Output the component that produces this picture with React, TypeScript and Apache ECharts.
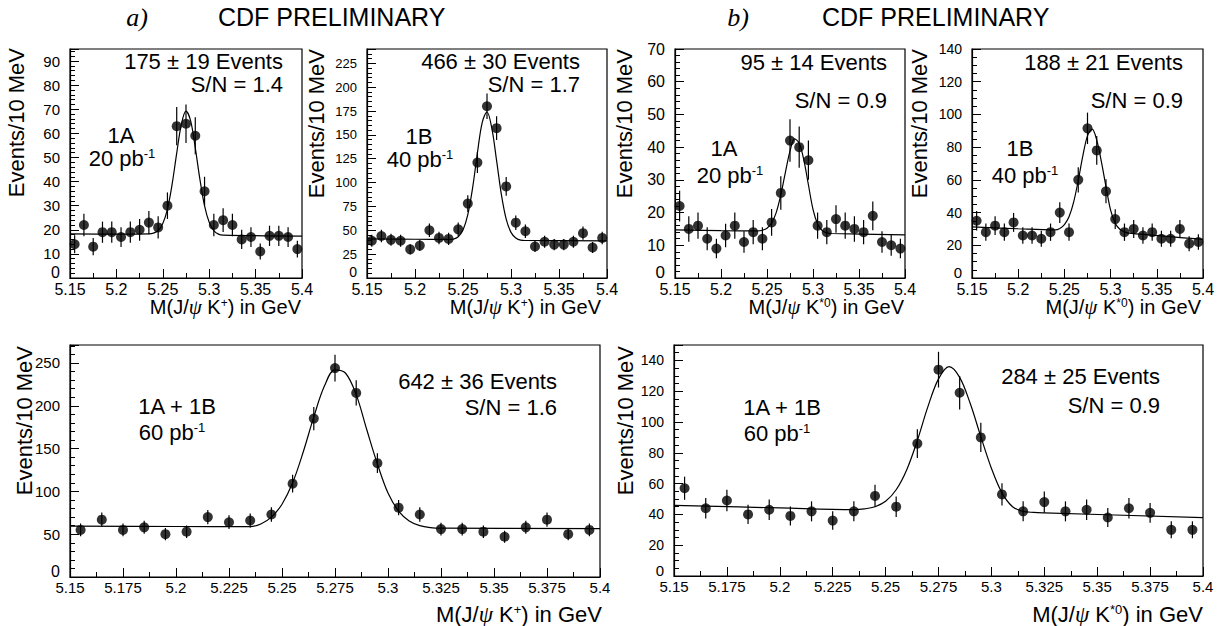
import React, { useEffect, useRef } from "react";
import * as echarts from "echarts";

const FONT = "'Liberation Sans', Arial, Helvetica, sans-serif";

// bin centres (GeV), 10 MeV bins
const binCenters = [
  5.155, 5.165, 5.175, 5.185, 5.195, 5.205, 5.215, 5.225, 5.235, 5.245, 5.255, 5.265, 5.275,
  5.285, 5.295, 5.305, 5.315, 5.325, 5.335, 5.345, 5.355, 5.365, 5.375, 5.385, 5.395,
];

// a) J/psi K+ , run 1A
const kp1AValues = [14, 22, 13, 19, 19, 17, 19, 20, 23, 21, 30, 63, 64, 59, 36, 22, 24, 22, 16, 17, 11, 17.5, 17.5, 17, 12];
const kp1AErrors = [3.7, 4.7, 3.6, 4.4, 4.4, 4.1, 4.4, 4.5, 4.8, 4.6, 5.5, 7.9, 8, 7.7, 6, 4.7, 4.9, 4.7, 4, 4.1, 3.3, 4.2, 4.2, 4.1, 3.5];
const kp1AFit = [
  [5.15, 18.3], [5.2, 18.2], [5.235, 18.3], [5.24, 18.6], [5.245, 19.7], [5.25, 22.6], [5.255, 28.6],
  [5.26, 38.8], [5.265, 51.8], [5.27, 63.7], [5.275, 69.2], [5.28, 65.2], [5.285, 54], [5.29, 40.9],
  [5.295, 29.9], [5.3, 23.1], [5.305, 19.7], [5.31, 18.2], [5.315, 17.8], [5.4, 17.4],
];

// a) J/psi K+ , run 1B
const kp1BValues = [39, 44, 40, 39, 30, 34, 50, 42, 41, 51, 78, 121, 180, 157, 96, 58, 49, 33, 38, 35, 35, 38, 47, 32, 42];
const kp1BErrors = [6.2, 6.6, 6.3, 6.2, 5.5, 5.8, 7.1, 6.5, 6.4, 7.1, 8.8, 11, 13.4, 12.5, 9.8, 7.6, 7, 5.7, 6.2, 5.9, 5.9, 6.2, 6.9, 5.7, 6.5];
const kp1BFit = [
  [5.15, 41], [5.2, 40.6], [5.235, 40.4], [5.24, 40.8], [5.245, 43.2], [5.25, 50.2], [5.255, 66.3],
  [5.26, 94.4], [5.265, 131], [5.27, 162.9], [5.275, 174], [5.28, 157], [5.285, 123], [5.29, 87.3],
  [5.295, 61.6], [5.3, 47.8], [5.305, 41.9], [5.31, 39.6], [5.315, 39.3], [5.4, 39],
];

// b) J/psi K*0 , run 1A
const ks1AValues = [22, 15, 16, 12, 9, 13, 16, 11, 14, 12, 17, 26, 42, 40, 36, 16, 14, 18, 16, 15, 14, 19, 11, 10, 9];
const ks1AErrors = [4.7, 3.9, 4, 3.5, 3, 3.6, 4, 3.3, 3.7, 3.5, 4.1, 5.1, 6.5, 6.3, 6, 4, 3.7, 4.2, 4, 3.9, 3.7, 4.4, 3.3, 3.2, 3];
const ks1AFit = [
  [5.15, 14.7], [5.2, 14.5], [5.24, 14.4], [5.245, 14.6], [5.25, 15.2], [5.255, 16.8], [5.26, 20],
  [5.265, 25.4], [5.27, 32.3], [5.275, 38.8], [5.28, 42.5], [5.285, 41.2], [5.29, 36.1],
  [5.295, 28.5], [5.3, 21], [5.305, 16.5], [5.31, 14.5], [5.315, 13.8], [5.32, 13.6], [5.4, 13.2],
];

// b) J/psi K*0 , run 1B
const ks1BValues = [35, 28, 32, 28, 34, 26, 26, 24, 28, 40, 28, 60, 91.5, 78, 53, 36, 28, 30, 26, 28, 24, 24, 30, 21, 22];
const ks1BErrors = [5.9, 5.3, 5.7, 5.3, 5.8, 5.1, 5.1, 4.9, 5.3, 6.3, 5.3, 7.7, 9.6, 8.8, 7.3, 6, 5.3, 5.5, 5.1, 5.3, 4.9, 4.9, 5.5, 4.6, 4.7];
const ks1BFit = [
  [5.15, 31.3], [5.2, 30.1], [5.24, 29.4], [5.245, 30.3], [5.25, 32.6], [5.255, 37.4], [5.26, 46.4],
  [5.265, 59.7], [5.27, 74.8], [5.275, 86.9], [5.28, 91], [5.285, 84.3], [5.29, 71.1], [5.295, 55.9],
  [5.3, 41.5], [5.305, 33.5], [5.31, 29.8], [5.315, 28.2], [5.32, 27.4], [5.4, 23.6],
];

// a) J/psi K+ , 1A + 1B
const kpAllValues = [55, 67, 55, 58, 50, 53, 70, 64, 66, 73, 109, 185, 244, 215, 133, 81, 73, 56, 56, 53, 47, 58, 67, 50, 55];
const kpAllErrors = [7.4, 8.2, 7.4, 7.6, 7.1, 7.3, 8.4, 8, 8.1, 8.5, 10.4, 13.6, 15.6, 14.7, 11.5, 9, 8.5, 7.5, 7.5, 7.3, 6.9, 7.6, 8.2, 7.1, 7.4];
const kpAllFit = [
  [5.15, 59.4], [5.2, 59], [5.235, 58.8], [5.24, 62], [5.245, 70], [5.25, 85], [5.255, 110],
  [5.26, 146], [5.265, 187], [5.27, 223], [5.275, 242], [5.28, 238], [5.285, 213], [5.29, 172],
  [5.295, 132], [5.3, 98], [5.305, 77], [5.31, 65.5], [5.315, 60], [5.32, 57.7], [5.325, 57],
  [5.4, 56.6],
];

// b) J/psi K*0 , 1A + 1B
const ksAllValues = [57, 44, 49, 40, 43, 39, 42, 36, 42, 52, 45, 86, 134, 119, 90, 53, 42, 48, 42, 43, 38, 44, 41, 30, 30];
const ksAllErrors = [7.5, 6.6, 7, 6.3, 6.6, 6.2, 6.5, 6, 6.5, 7.2, 6.7, 9.3, 11.6, 10.9, 9.5, 7.3, 6.5, 6.9, 6.5, 6.6, 6.2, 6.6, 6.4, 5.5, 5.5];
const ksAllFit = [
  [5.15, 45.9], [5.2, 44.2], [5.235, 43.1], [5.24, 43.6], [5.245, 45], [5.25, 48.5], [5.255, 56],
  [5.26, 69], [5.265, 88], [5.27, 110], [5.275, 128], [5.28, 136], [5.285, 129], [5.29, 112],
  [5.295, 90.5], [5.3, 70], [5.305, 54], [5.31, 45], [5.315, 42], [5.32, 41.3], [5.325, 41],
  [5.4, 37.9],
];

const X_MIN = 5.15;
const X_MAX = 5.4;

const panels = [
  { values: kp1AValues, errors: kp1AErrors, fit: kp1AFit, grid: { left: 70, top: 49, width: 232, height: 229 }, yMax: 95, yInterval: 10, yMinor: 5, xInterval: 0.05, yLabelSize: 15, xLabelSize: 16 },
  { values: kp1BValues, errors: kp1BErrors, fit: kp1BFit, grid: { left: 367, top: 49, width: 240, height: 229 }, yMax: 240, yInterval: 25, yMinor: 5, xInterval: 0.05, yLabelSize: 13, xLabelSize: 16 },
  { values: ks1AValues, errors: ks1AErrors, fit: ks1AFit, grid: { left: 675, top: 49, width: 230, height: 229 }, yMax: 70, yInterval: 10, yMinor: 5, xInterval: 0.05, yLabelSize: 16, xLabelSize: 16 },
  { values: ks1BValues, errors: ks1BErrors, fit: ks1BFit, grid: { left: 972, top: 49, width: 231, height: 229 }, yMax: 140, yInterval: 20, yMinor: 4, xInterval: 0.05, yLabelSize: 14, xLabelSize: 16 },
  { values: kpAllValues, errors: kpAllErrors, fit: kpAllFit, grid: { left: 70, top: 345, width: 530, height: 232 }, yMax: 271, yInterval: 50, yMinor: 5, xInterval: 0.025, yLabelSize: 15, xLabelSize: 15 },
  { values: ksAllValues, errors: ksAllErrors, fit: ksAllFit, grid: { left: 674, top: 345, width: 529, height: 231 }, yMax: 150, yInterval: 20, yMinor: 4, xInterval: 0.025, yLabelSize: 14, xLabelSize: 15 },
];

const BLACK = "#000";

function plainText(x: number, y: number, text: string, align: string, fontSize = 22, extra: any = {}) {
  return {
    type: "text",
    x,
    y,
    silent: true,
    style: { text, fill: BLACK, fontSize, fontFamily: FONT, align, verticalAlign: "middle", ...extra },
  };
}

function supText(x: number, y: number, base: string, sup: string, align: string, fontSize = 22) {
  return {
    type: "text",
    x,
    y,
    silent: true,
    style: {
      text: `{n|${base}}{s|${sup}}`,
      fill: BLACK,
      align,
      verticalAlign: "middle",
      rich: {
        n: { fontSize, fontFamily: FONT, fill: BLACK, lineHeight: fontSize },
        s: { fontSize: Math.round(fontSize * 0.6), fontFamily: FONT, fill: BLACK, verticalAlign: "top", lineHeight: fontSize },
      },
    },
  };
}

function massTitle(x: number, y: number, sup: string, fontSize = 20) {
  return {
    type: "text",
    x,
    y,
    silent: true,
    style: {
      text: `{n|M(J/}{g|ψ}{n| K}{s|${sup}}{n|) in GeV}`,
      fill: BLACK,
      align: "right",
      verticalAlign: "middle",
      rich: {
        n: { fontSize, fontFamily: FONT, fill: BLACK, lineHeight: fontSize },
        g: { fontSize: fontSize + 1, fontFamily: "'Liberation Serif', serif", fontStyle: "italic", fill: BLACK, lineHeight: fontSize },
        s: { fontSize: Math.round(fontSize * 0.6), fontFamily: FONT, fill: BLACK, verticalAlign: "top", lineHeight: fontSize },
      },
    },
  };
}

function yTitle(x: number, yTop: number) {
  return {
    type: "text",
    x,
    y: yTop,
    rotation: Math.PI / 2,
    silent: true,
    style: { text: "Events/10 MeV", fill: BLACK, fontSize: 22, fontFamily: FONT, align: "right", verticalAlign: "middle" },
  };
}

const graphics = [
  plainText(137, 17, "a)", "center", 26, { fontFamily: "'Liberation Serif', serif", fontStyle: "italic" }),
  plainText(218, 17, "CDF PRELIMINARY", "left", 25),
  plainText(738, 17, "b)", "center", 26, { fontFamily: "'Liberation Serif', serif", fontStyle: "italic" }),
  plainText(822, 17, "CDF PRELIMINARY", "left", 25),

  // panel 1
  plainText(283, 61, "175 ± 19 Events", "right"),
  plainText(283, 84, "S/N = 1.4", "right"),
  plainText(121, 135, "1A", "center"),
  supText(122, 158, "20 pb", "-1", "center"),
  // panel 2
  plainText(580, 61, "466 ± 30 Events", "right"),
  plainText(580, 84, "S/N = 1.7", "right"),
  plainText(419, 136, "1B", "center"),
  supText(420, 159, "40 pb", "-1", "center"),
  // panel 3
  plainText(887, 62, "95 ± 14 Events", "right"),
  plainText(887, 100, "S/N = 0.9", "right"),
  plainText(724, 148, "1A", "center"),
  supText(730, 175, "20 pb", "-1", "center"),
  // panel 4
  plainText(1183, 62, "188 ± 21 Events", "right"),
  plainText(1183, 100, "S/N = 0.9", "right"),
  plainText(1020, 148, "1B", "center"),
  supText(1025, 175, "40 pb", "-1", "center"),
  // bottom left
  plainText(177, 406, "1A + 1B", "center"),
  supText(172, 432, "60 pb", "-1", "center"),
  plainText(557, 381, "642 ± 36 Events", "right"),
  plainText(557, 407, "S/N = 1.6", "right"),
  // bottom right
  plainText(782, 407, "1A + 1B", "center"),
  supText(777, 433, "60 pb", "-1", "center"),
  plainText(1160, 376, "284 ± 25 Events", "right"),
  plainText(1160, 405, "S/N = 0.9", "right"),

  // axis titles
  yTitle(16, 48),
  yTitle(316, 49),
  yTitle(624, 49),
  yTitle(919, 49),
  yTitle(24, 346),
  yTitle(625, 346),
  massTitle(301, 307, "+"),
  massTitle(601, 307, "+"),
  massTitle(904, 307, "*0"),
  massTitle(1201, 307, "*0"),
  massTitle(602, 614, "+", 22),
  massTitle(1203, 614, "*0", 22),
];

function buildOption() {
  const grid: any[] = [];
  const xAxis: any[] = [];
  const yAxis: any[] = [];
  const series: any[] = [];
  const lineStyle = { color: BLACK, width: 1 };

  panels.forEach((p, i) => {
    grid.push({ ...p.grid, show: true, borderColor: BLACK, borderWidth: 1.2, backgroundColor: "transparent" });
    xAxis.push({
      type: "value",
      gridIndex: i,
      min: X_MIN,
      max: X_MAX,
      interval: p.xInterval,
      axisLine: { show: true, onZero: false, lineStyle: { color: BLACK, width: 1.2 } },
      axisTick: { show: true, inside: true, length: 9, lineStyle },
      minorTick: { show: true, splitNumber: 2, length: 5, lineStyle },
      splitLine: { show: false },
      minorSplitLine: { show: false },
      axisLabel: {
        color: BLACK,
        fontFamily: FONT,
        fontSize: p.xLabelSize,
        margin: 3,
        formatter: (v: number) => String(parseFloat(v.toFixed(3))),
      },
    });
    yAxis.push({
      type: "value",
      gridIndex: i,
      min: 0,
      max: p.yMax,
      interval: p.yInterval,
      axisLine: { show: true, onZero: false, lineStyle: { color: BLACK, width: 1.2 } },
      axisTick: { show: true, inside: true, length: 9, lineStyle },
      minorTick: { show: true, splitNumber: p.yMinor, length: 5, lineStyle },
      splitLine: { show: false },
      minorSplitLine: { show: false },
      axisLabel: {
        color: BLACK,
        fontFamily: FONT,
        fontSize: p.yLabelSize,
        margin: 10,
        formatter: (v: number) => {
          const r = v / p.yInterval;
          if (Math.abs(r - Math.round(r)) >= 1e-6) return "";
          const s = String(Math.round(v));
          return v === 0 ? `{z|${s}}` : s;
        },
        rich: {
          z: { fontSize: p.yLabelSize + 1, fontFamily: FONT, color: BLACK, padding: [0, 0, 12, 0] },
        },
      },
    });

    series.push({
      type: "line",
      xAxisIndex: i,
      yAxisIndex: i,
      data: p.fit,
      smooth: 0.35,
      showSymbol: false,
      symbol: "none",
      silent: true,
      lineStyle: { color: BLACK, width: 1.2 },
      z: 2,
    });
    series.push({
      type: "custom",
      xAxisIndex: i,
      yAxisIndex: i,
      data: binCenters.map((x, j) => [x, p.values[j], p.errors[j]]),
      encode: { x: 0, y: 1 },
      silent: true,
      renderItem: (params: any, api: any) => {
        const x = api.value(0);
        const y = api.value(1);
        const e = api.value(2);
        const a = api.coord([x, y - e]);
        const b = api.coord([x, y + e]);
        return {
          type: "line",
          shape: { x1: a[0], y1: a[1], x2: b[0], y2: b[1] },
          style: { stroke: BLACK, lineWidth: 1.2 },
        };
      },
      z: 3,
    });
    series.push({
      type: "scatter",
      xAxisIndex: i,
      yAxisIndex: i,
      data: binCenters.map((x, j) => [x, p.values[j]]),
      symbol: "circle",
      symbolSize: 10,
      itemStyle: { color: BLACK },
      silent: true,
      z: 4,
    });
  });

  return {
    animation: false,
    backgroundColor: "#fff",
    grid,
    xAxis,
    yAxis,
    series,
    graphic: graphics,
  };
}

export default function App() {
  const ref = useRef<HTMLDivElement>(null);
  useEffect(() => {
    if (!ref.current) return;
    const chart = echarts.init(ref.current, undefined, { renderer: "svg" });
    chart.setOption(buildOption() as any);
    return () => chart.dispose();
  }, []);
  return (
    <div
      ref={ref}
      style={{ position: "absolute", left: 0, top: 0, width: 1218, height: 626, background: "#fff" }}
    />
  );
}
